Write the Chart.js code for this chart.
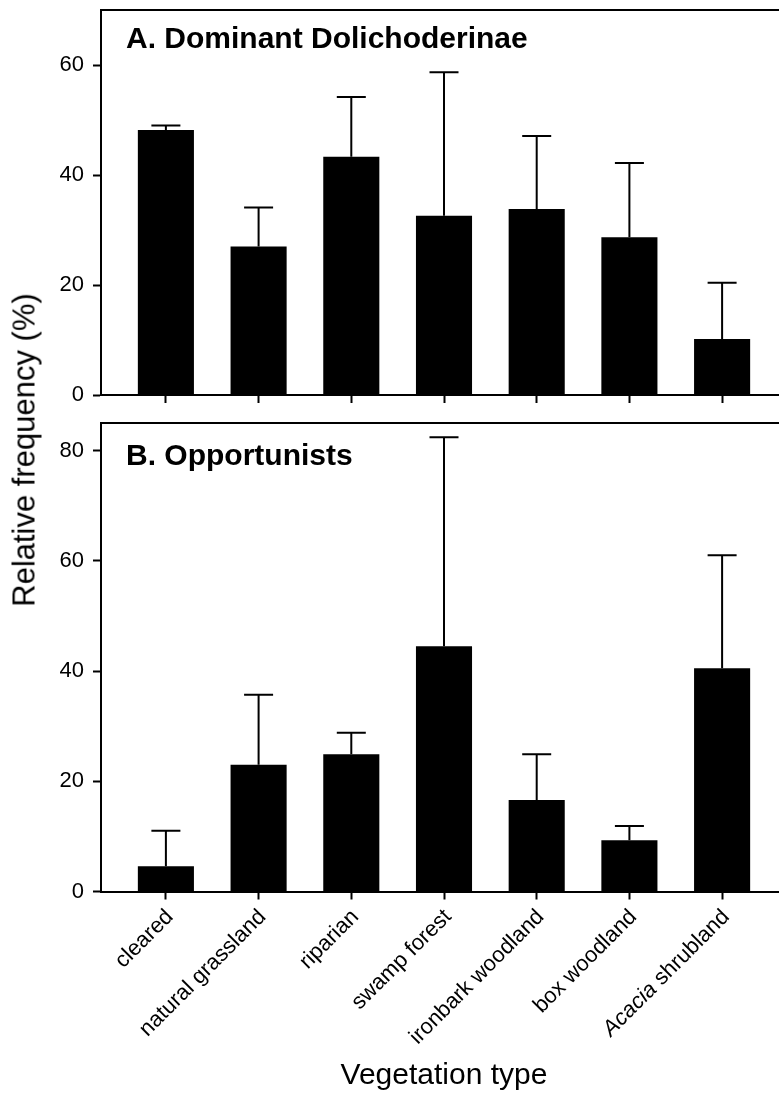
<!DOCTYPE html>
<html>
<head>
<meta charset="utf-8">
<script src="https://cdn.jsdelivr.net/npm/chart.js@4.4.0/dist/chart.umd.min.js"></script>
<style>
  html, body { margin: 0; padding: 0; background: #fff; overflow: hidden; }
  body { width: 779px; height: 1094px; position: relative; }
  .panel { position: absolute; left: 0; width: 800px; }
  #ytitle {
    position: absolute; left: 24px; top: 450px;
    transform: translate(-50%, -50%) rotate(-90deg);
    font: 31px "Liberation Sans", Arial, sans-serif;
    line-height: 1; white-space: nowrap; color: #000;
  }
</style>
</head>
<body>
<div class="panel" style="top:0;height:420px"><canvas id="chartA"></canvas></div>
<div class="panel" style="top:410px;height:684px"><canvas id="chartB"></canvas></div>
<div id="ytitle">Relative frequency (%)</div>
<script>
// data (mean and upper error)
const categories = ['cleared', 'natural grassland', 'riparian', 'swamp forest', 'ironbark woodland', 'box woodland', 'Acacia shrubland'];
const italicWords = ['Acacia'];
const dolichoMeans = [48.2, 27.0, 43.3, 32.6, 33.8, 28.7, 10.2];
const dolichoErrors = [0.8, 7.1, 10.9, 26.1, 13.3, 13.5, 10.2];
const opportMeans = [4.6, 23.0, 24.9, 44.5, 16.6, 9.3, 40.5];
const opportErrors = [6.4, 12.7, 3.9, 37.9, 8.3, 2.6, 20.5];
const yTicksA = [0, 20, 40, 60];
const yTicksB = [0, 20, 40, 60, 80];

const FONT = '"Liberation Sans", Arial, sans-serif';

// error bars (upper only) + top frame line + panel title
const panelDecor = {
    id: 'panelDecor',
    afterDatasetsDraw(chart, args, opts) {
        const ctx = chart.ctx;
        const meta = chart.getDatasetMeta(0);
        const yScale = chart.scales.y;
        const errs = opts.errors;
        ctx.save();
        ctx.strokeStyle = '#000';
        ctx.lineWidth = 2;
        meta.data.forEach((bar, i) => {
            const v = chart.data.datasets[0].data[i].y;
            const yTop = yScale.getPixelForValue(v + errs[i]);
            ctx.beginPath();
            ctx.moveTo(bar.x, bar.y);
            ctx.lineTo(bar.x, yTop);
            ctx.moveTo(bar.x - 14.5, yTop);
            ctx.lineTo(bar.x + 14.5, yTop);
            ctx.stroke();
        });
        ctx.restore();
    },
    afterDraw(chart, args, opts) {
        const ctx = chart.ctx;
        const a = chart.chartArea;
        ctx.save();
        ctx.strokeStyle = '#000';
        ctx.lineWidth = 2;
        ctx.beginPath();
        ctx.moveTo(a.left - 1, a.top);
        ctx.lineTo(a.right, a.top);
        ctx.lineTo(a.right, a.bottom);
        ctx.stroke();
        ctx.fillStyle = '#000';
        ctx.font = 'bold 30px ' + FONT;
        ctx.textBaseline = 'alphabetic';
        ctx.fillText(opts.title, opts.titleX, a.top + opts.titleDy);

        if (opts.showLabels) {
            const xs = chart.scales.x;
            categories.forEach((name, i) => {
                const x = xs.getPixelForValue(i);
                ctx.save();
                ctx.translate(x + 4, a.bottom + 22);
                ctx.rotate(-Math.PI / 4);
                ctx.textAlign = 'right';
                ctx.textBaseline = 'middle';
                const first = name.split(' ')[0];
                ctx.font = '22px ' + FONT;
                if (italicWords.includes(first)) {
                    const rest = name.slice(first.length);
                    ctx.fillText(rest, 0, 0);
                    const w = ctx.measureText(rest).width;
                    ctx.font = 'italic 22px ' + FONT;
                    ctx.fillText(first, -w, 0);
                } else {
                    ctx.fillText(name, 0, 0);
                }
                ctx.restore();
            });
            ctx.font = '30px ' + FONT;
            ctx.textAlign = 'center';
            ctx.fillText('Vegetation type', (xs.getPixelForValue(0) + xs.getPixelForValue(categories.length - 1)) / 2, chart.height - 10);
        }
        ctx.restore();
    }
};

function makePanel(id, means, errors, yMax, yTicks, title, topPad, xAxisH, titleDy, showLabels) {
    return new Chart(document.getElementById(id), {
        type: 'bar',
        data: {
            datasets: [{
                data: means.map((v, i) => ({ x: i, y: v })),
                backgroundColor: '#000',
                borderWidth: 0,
                categoryPercentage: 1,
                barPercentage: 0.605
            }]
        },
        options: {
            responsive: true,
            maintainAspectRatio: false,
            animation: false,
            layout: { padding: { left: 0, right: 13, top: topPad, bottom: 0 } },
            plugins: {
                legend: { display: false },
                tooltip: { enabled: false },
                panelDecor: { errors: errors, title: title, titleX: 126, titleDy: titleDy, showLabels: showLabels }
            },
            scales: {
                x: {
                    type: 'linear',
                    offset: false,
                    min: -0.7,
                    max: 6.7,
                    afterBuildTicks: s => { s.ticks = categories.map((c, i) => ({ value: i })); },
                    afterFit: s => { s.height = xAxisH; s.paddingLeft = 0; s.paddingRight = 0; },
                    ticks: { display: false },
                    grid: { offset: false, drawOnChartArea: false, drawTicks: true, tickLength: 8, tickWidth: 2, tickColor: '#000', color: '#000' },
                    border: { display: true, color: '#000', width: 2 }
                },
                y: {
                    min: 0,
                    max: yMax,
                    afterBuildTicks: s => { s.ticks = yTicks.map(v => ({ value: v })); },
                    afterFit: s => { s.width = 101; s.paddingTop = 0; s.paddingBottom = 0; },
                    ticks: { color: '#000', padding: 9, font: { size: 22, family: FONT } },
                    grid: { drawOnChartArea: false, drawTicks: true, tickLength: 8, tickWidth: 2, tickColor: '#000', color: '#000' },
                    border: { display: true, color: '#000', width: 2 }
                }
            }
        },
        plugins: [panelDecor]
    });
}

makePanel('chartA', dolichoMeans, dolichoErrors, 70, yTicksA, 'A. Dominant Dolichoderinae', 10, 25, 38, false);
makePanel('chartB', opportMeans, opportErrors, 85, yTicksB, 'B. Opportunists', 13, 202.5, 42, true);
</script>
</body>
</html>
